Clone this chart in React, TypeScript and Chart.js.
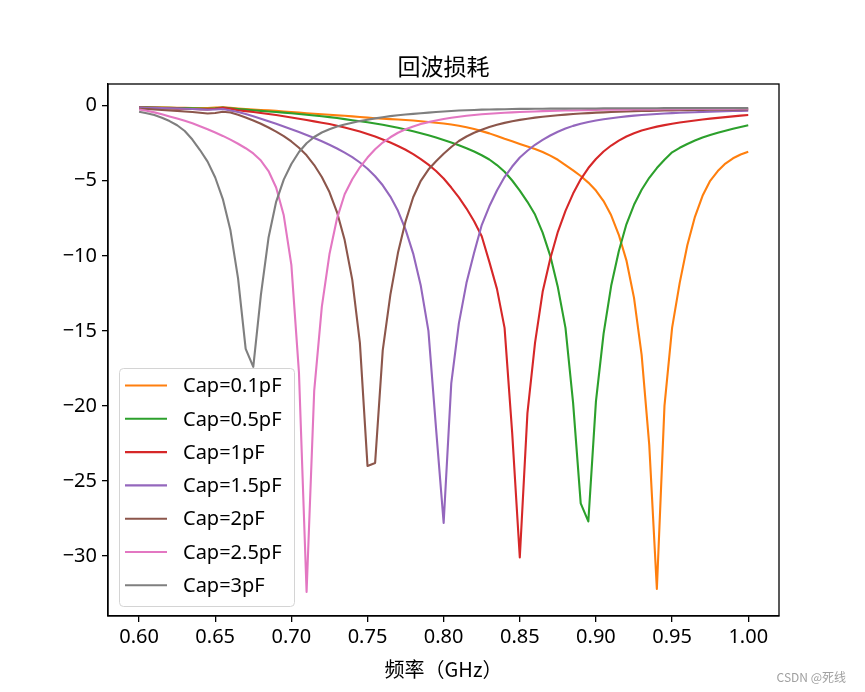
import React, { useEffect, useRef } from "react";
import { Chart, registerables } from "chart.js";

Chart.register(...registerables);

// Frequency grid (GHz)
const FREQ = [
  0.600, 0.605, 0.610, 0.615, 0.620, 0.625, 0.630, 0.635, 0.640,
  0.645, 0.650, 0.655, 0.660, 0.665, 0.670, 0.675, 0.680, 0.685,
  0.690, 0.695, 0.700, 0.705, 0.710, 0.715, 0.720, 0.725, 0.730,
  0.735, 0.740, 0.745, 0.750, 0.755, 0.760, 0.765, 0.770, 0.775,
  0.780, 0.785, 0.790, 0.795, 0.800, 0.805, 0.810, 0.815, 0.820,
  0.825, 0.830, 0.835, 0.840, 0.845, 0.850, 0.855, 0.860, 0.865,
  0.870, 0.875, 0.880, 0.885, 0.890, 0.895, 0.900, 0.905, 0.910,
  0.915, 0.920, 0.925, 0.930, 0.935, 0.940, 0.945, 0.950, 0.955,
  0.960, 0.965, 0.970, 0.975, 0.980, 0.985, 0.990, 0.995, 1.000,
];

const LABELS = ["Cap=0.1pF", "Cap=0.5pF", "Cap=1pF", "Cap=1.5pF", "Cap=2pF", "Cap=2.5pF", "Cap=3pF"];

const CAP_0_1 = [
  -0.08, -0.09, -0.10, -0.11, -0.12, -0.13, -0.14, -0.15, -0.16,
  -0.16, -0.12, -0.10, -0.13, -0.18, -0.22, -0.25, -0.28, -0.31,
  -0.34, -0.38, -0.42, -0.46, -0.50, -0.53, -0.57, -0.60, -0.64,
  -0.67, -0.71, -0.75, -0.79, -0.83, -0.86, -0.89, -0.92, -0.95,
  -0.98, -1.03, -1.08, -1.13, -1.18, -1.25, -1.33, -1.43, -1.55,
  -1.69, -1.84, -2.01, -2.20, -2.37, -2.55, -2.72, -2.88, -3.08,
  -3.32, -3.60, -3.95, -4.30, -4.68, -5.12, -5.65, -6.35, -7.30,
  -8.60, -10.30, -12.80, -16.60, -22.60, -32.20, -20.00, -14.80, -11.80,
  -9.30, -7.40, -6.00, -5.00, -4.35, -3.85, -3.50, -3.25, -3.07,
];

const CAP_0_5 = [
  -0.10, -0.11, -0.12, -0.13, -0.14, -0.15, -0.16, -0.17, -0.18,
  -0.20, -0.17, -0.12, -0.17, -0.22, -0.26, -0.30, -0.34, -0.38,
  -0.42, -0.46, -0.50, -0.55, -0.60, -0.65, -0.70, -0.76, -0.82,
  -0.89, -0.96, -1.03, -1.10, -1.18, -1.27, -1.37, -1.47, -1.58,
  -1.70, -1.83, -1.97, -2.12, -2.28, -2.45, -2.63, -2.83, -3.05,
  -3.30, -3.58, -3.95, -4.40, -4.98, -5.65, -6.40, -7.25, -8.45,
  -10.00, -12.10, -14.80, -19.80, -26.50, -27.70, -19.70, -15.20, -12.00,
  -9.70, -7.90, -6.60, -5.60, -4.80, -4.15, -3.60, -3.10, -2.80,
  -2.55, -2.32, -2.12, -1.95, -1.80, -1.66, -1.53, -1.41, -1.30,
];

const CAP_1 = [
  -0.12, -0.13, -0.14, -0.16, -0.17, -0.19, -0.20, -0.22, -0.23,
  -0.24, -0.20, -0.14, -0.20, -0.30, -0.36, -0.42, -0.48, -0.55,
  -0.62, -0.70, -0.78, -0.86, -0.95, -1.04, -1.13, -1.22, -1.33,
  -1.45, -1.58, -1.72, -1.88, -2.05, -2.25, -2.45, -2.68, -2.93,
  -3.22, -3.55, -3.92, -4.35, -4.85, -5.45, -6.10, -6.85, -7.70,
  -8.70, -10.40, -12.20, -14.80, -21.80, -30.10, -20.50, -15.80, -12.40,
  -10.20, -8.40, -7.00, -5.85, -4.90, -4.15, -3.55, -3.05, -2.65,
  -2.32, -2.05, -1.83, -1.65, -1.51, -1.39, -1.29, -1.20, -1.12,
  -1.05, -0.98, -0.92, -0.86, -0.81, -0.76, -0.71, -0.66, -0.62,
];

const CAP_1_5 = [
  -0.12, -0.13, -0.14, -0.15, -0.17, -0.18, -0.20, -0.22, -0.24,
  -0.27, -0.25, -0.22, -0.32, -0.42, -0.55, -0.70, -0.86, -1.03,
  -1.20, -1.38, -1.56, -1.75, -1.95, -2.15, -2.37, -2.60, -2.85,
  -3.12, -3.42, -3.78, -4.20, -4.70, -5.30, -6.05, -7.00, -8.25,
  -9.85, -12.00, -15.00, -21.50, -27.80, -18.50, -14.50, -11.80, -9.80,
  -7.95, -6.70, -5.65, -4.75, -4.05, -3.45, -3.00, -2.60, -2.27,
  -1.98, -1.73, -1.52, -1.34, -1.20, -1.08, -0.98, -0.90, -0.83,
  -0.77, -0.71, -0.66, -0.62, -0.58, -0.55, -0.52, -0.49, -0.47,
  -0.45, -0.43, -0.41, -0.39, -0.38, -0.37, -0.35, -0.34, -0.33,
];

const CAP_2 = [
  -0.20, -0.22, -0.25, -0.28, -0.31, -0.34, -0.38, -0.42, -0.47,
  -0.52, -0.48, -0.40, -0.45, -0.60, -0.78, -0.98, -1.20, -1.45,
  -1.72, -2.02, -2.38, -2.80, -3.30, -3.95, -4.75, -5.75, -7.10,
  -8.95, -11.60, -15.80, -24.00, -23.80, -16.30, -12.60, -9.80, -7.70,
  -6.10, -5.00, -4.25, -3.70, -3.20, -2.75, -2.35, -2.05, -1.80,
  -1.60, -1.42, -1.27, -1.14, -1.03, -0.94, -0.86, -0.79, -0.73,
  -0.68, -0.63, -0.59, -0.55, -0.52, -0.49, -0.46, -0.44, -0.42,
  -0.40, -0.38, -0.36, -0.35, -0.34, -0.33, -0.32, -0.31, -0.30,
  -0.29, -0.28, -0.28, -0.27, -0.27, -0.26, -0.26, -0.25, -0.25,
];

const CAP_2_5 = [
  -0.25, -0.33, -0.44, -0.57, -0.71, -0.85, -1.00, -1.17, -1.36,
  -1.56, -1.78, -2.01, -2.26, -2.53, -2.83, -3.18, -3.65, -4.35,
  -5.45, -7.30, -10.60, -17.80, -32.40, -19.00, -13.40, -9.90, -7.50,
  -5.90, -4.90, -4.10, -3.45, -2.90, -2.45, -2.10, -1.80, -1.57,
  -1.38, -1.22, -1.09, -0.98, -0.88, -0.80, -0.73, -0.67, -0.62,
  -0.57, -0.53, -0.50, -0.47, -0.44, -0.42, -0.40, -0.38, -0.36,
  -0.35, -0.33, -0.32, -0.31, -0.30, -0.29, -0.28, -0.27, -0.27,
  -0.26, -0.26, -0.25, -0.25, -0.24, -0.24, -0.23, -0.23, -0.23,
  -0.22, -0.22, -0.22, -0.21, -0.21, -0.21, -0.21, -0.20, -0.20,
];

const CAP_3 = [
  -0.40, -0.50, -0.62, -0.80, -1.02, -1.30, -1.68, -2.25, -2.95,
  -3.72, -4.78, -6.22, -8.30, -11.50, -16.20, -17.40, -12.60, -8.80,
  -6.40, -4.92, -3.88, -3.08, -2.50, -2.08, -1.78, -1.56, -1.38,
  -1.25, -1.13, -1.02, -0.93, -0.84, -0.76, -0.69, -0.63, -0.58,
  -0.54, -0.50, -0.46, -0.42, -0.38, -0.35, -0.32, -0.30, -0.28,
  -0.26, -0.25, -0.24, -0.23, -0.22, -0.21, -0.21, -0.20, -0.20,
  -0.19, -0.19, -0.19, -0.18, -0.18, -0.18, -0.18, -0.17, -0.17,
  -0.17, -0.17, -0.17, -0.17, -0.17, -0.17, -0.16, -0.16, -0.16,
  -0.16, -0.16, -0.16, -0.16, -0.16, -0.16, -0.16, -0.16, -0.16,
];

const X_TICKS = [0.6, 0.65, 0.7, 0.75, 0.8, 0.85, 0.9, 0.95, 1.0];
const Y_TICKS = [0, -5, -10, -15, -20, -25, -30];

const COLORS = ["#ff7f0e", "#2ca02c", "#d62728", "#9467bd", "#8c564b", "#e377c2", "#7f7f7f"];

const TITLE = "回波损耗";
const X_LABEL = "频率（GHz）";
const WATERMARK = "CSDN @死线";

const FONT = '"Noto Sans", "Noto Sans CJK SC", sans-serif';
const CJK_FONT = '"Noto Sans CJK SC", "Noto Sans", sans-serif';

export default function App() {
  const ref = useRef<HTMLCanvasElement | null>(null);

  useEffect(() => {
    const series = [CAP_0_1, CAP_0_5, CAP_1, CAP_1_5, CAP_2, CAP_2_5, CAP_3];
    const datasets = series.map((s, i) => ({
      label: LABELS[i],
      data: FREQ.map((f, j) => ({ x: f, y: s[j] })),
      borderColor: COLORS[i],
      backgroundColor: COLORS[i],
      borderWidth: 2.1,
      borderJoinStyle: "round",
      borderCapStyle: "butt",
      pointRadius: 0,
      pointHoverRadius: 0,
      tension: 0,
      fill: false,
      order: series.length - 1 - i,
    }));

    const decor = {
      id: "decor",
      afterDraw(chart: any) {
        const { ctx, chartArea } = chart;
        const { left, right, top, bottom } = chartArea;
        ctx.save();
        // frame
        ctx.strokeStyle = "#000";
        ctx.lineWidth = 1.3;
        ctx.strokeRect(left, top, right - left, bottom - top);
        // title
        ctx.fillStyle = "#000";
        ctx.textAlign = "center";
        ctx.textBaseline = "middle";
        ctx.font = `23px ${CJK_FONT}`;
        ctx.fillText(TITLE, (left + right) / 2, 66);
        // x label
        ctx.font = `20px ${CJK_FONT}`;
        ctx.fillText(X_LABEL, (left + right) / 2, 669);
        // watermark
        ctx.font = `12px ${CJK_FONT}`;
        ctx.fillStyle = "#a0a0a0";
        ctx.textAlign = "right";
        ctx.fillText(WATERMARK, 846, 677);
        // legend
        const lx = 119, ly = 368, lw = 175, lh = 238;
        ctx.beginPath();
        ctx.roundRect(lx + 0.5, ly + 0.5, lw, lh, 4);
        ctx.fillStyle = "rgba(255,255,255,0.8)";
        ctx.fill();
        ctx.strokeStyle = "#d4d4d4";
        ctx.lineWidth = 1;
        ctx.stroke();
        ctx.textAlign = "left";
        ctx.textBaseline = "middle";
        ctx.font = `20px ${FONT}`;
        LABELS.forEach((lab, i) => {
          const y = 385.5 + i * 33.3;
          ctx.strokeStyle = COLORS[i];
          ctx.lineWidth = 2.1;
          ctx.beginPath();
          ctx.moveTo(125, y);
          ctx.lineTo(167, y);
          ctx.stroke();
          ctx.fillStyle = "#000";
          ctx.fillText(lab, 183, y + 1);
        });
        ctx.restore();
      },
    };

    const chart = new Chart(ref.current as HTMLCanvasElement, {
      type: "line",
      data: { datasets } as any,
      options: {
        responsive: false,
        animation: false,
        devicePixelRatio: 1,
        events: [],
        layout: { padding: { left: 0, right: 86, top: 84, bottom: 0 } },
        plugins: {
          legend: { display: false },
          title: { display: false },
          tooltip: { enabled: false },
        },
        scales: {
          x: {
            type: "linear",
            min: 0.5796,
            max: 1.0202,
            afterBuildTicks: (s: any) => {
              s.ticks = X_TICKS.map((v) => ({ value: v }));
            },
            afterFit: (s: any) => {
              s.height = 76;
            },
            ticks: {
              callback: (v: any) => Number(v).toFixed(2),
              font: { size: 20, family: FONT },
              color: "#000",
              padding: 3,
              maxRotation: 0,
              autoSkip: false,
            },
            grid: {
              display: true,
              drawOnChartArea: false,
              drawTicks: true,
              tickLength: 6,
              color: "#000",
              lineWidth: 1.3,
            },
            border: { display: true, color: "#000", width: 1.3 },
          },
          y: {
            type: "linear",
            min: -34.0,
            max: 1.45,
            afterBuildTicks: (s: any) => {
              s.ticks = Y_TICKS.map((v) => ({ value: v }));
            },
            afterFit: (s: any) => {
              s.width = 108;
            },
            ticks: {
              callback: (v: any) => (Number(v) === 0 ? "0" : "\u2212" + Math.abs(Number(v))),
              font: { size: 20, family: FONT },
              color: "#000",
              padding: 5,
              autoSkip: false,
            },
            grid: {
              display: true,
              drawOnChartArea: false,
              drawTicks: true,
              tickLength: 6,
              color: "#000",
              lineWidth: 1.3,
            },
            border: { display: true, color: "#000", width: 1.3 },
          },
        },
      } as any,
      plugins: [decor],
    });

    return () => chart.destroy();
  }, []);

  return (
    <div style={{ position: "fixed", left: 0, top: 0, width: 865, height: 692, background: "#fff" }}>
      <canvas ref={ref} width={865} height={692} style={{ display: "block", width: 865, height: 692 }} />
    </div>
  );
}
